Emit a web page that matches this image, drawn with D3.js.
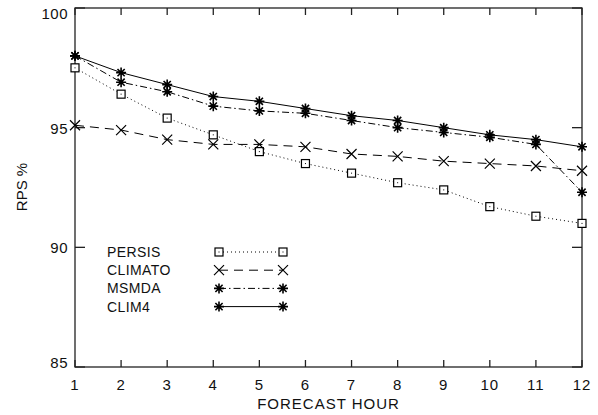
<!DOCTYPE html>
<html>
<head>
<meta charset="utf-8">
<script src="https://cdn.jsdelivr.net/npm/d3@7"></script>
<style>
  html, body { margin: 0; padding: 0; background: #fff; }
  svg { display: block; }
  text { font-family: "Liberation Sans", Arial, Helvetica, sans-serif; fill: #111; }
</style>
</head>
<body>
<svg id="chart" width="598" height="415"></svg>
<script>
// Forecast hours on the x axis
const hours = [1, 2, 3, 4, 5, 6, 7, 8, 9, 10, 11, 12];

// RPS % per forecast hour for each scheme
const persis  = [97.5, 96.4, 95.4, 94.7, 94.0, 93.5, 93.1, 92.7, 92.4, 91.7, 91.3, 91.0];
const climato = [95.1, 94.9, 94.5, 94.3, 94.3, 94.2, 93.9, 93.8, 93.6, 93.5, 93.4, 93.2];
const msmda   = [98.0, 96.9, 96.5, 95.9, 95.7, 95.6, 95.3, 95.0, 94.8, 94.6, 94.3, 92.3];
const clim4   = [98.0, 97.3, 96.8, 96.3, 96.1, 95.8, 95.5, 95.3, 95.0, 94.7, 94.5, 94.2];

const seriesNames = ["PERSIS", "CLIMATO", "MSMDA", "CLIM4"];
const yTicks = [85, 90, 95, 100];

const svg = d3.select("#chart");
const L = 75, R = 582, T = 8, B = 367;

const x = d3.scaleLinear().domain([1, 12]).range([L, R]);
const y = d3.scaleLinear().domain([85, 100]).range([B, T]);

const styles = {
  PERSIS:  { values: persis,  dash: "1,3",          marker: "square" },
  CLIMATO: { values: climato, dash: "9,6",          marker: "cross" },
  MSMDA:   { values: msmda,   dash: "7,3,1.5,3",    marker: "star" },
  CLIM4:   { values: clim4,   dash: null,           marker: "star" }
};

// Marker glyphs
function drawMarker(g, type, cx, cy) {
  const m = g.append("g").attr("transform", `translate(${cx},${cy})`)
    .attr("stroke", "#000").attr("fill", "none");
  if (type === "square") {
    m.append("rect").attr("x", -4).attr("y", -4).attr("width", 8).attr("height", 8)
      .attr("stroke-width", 1.2).attr("fill", "#fff");
    m.append("rect").attr("x", -0.5).attr("y", -0.5).attr("width", 1).attr("height", 1)
      .attr("fill", "#000").attr("stroke", "none");
  } else if (type === "cross") {
    const s = 5;
    m.append("path").attr("d", `M${-s},${-s}L${s},${s}M${-s},${s}L${s},${-s}`)
      .attr("stroke-width", 1.2);
  } else {
    const s = 5, d = 3.6;
    m.append("path")
      .attr("d", `M0,${-s}L0,${s}M${-s},0L${s},0M${-d},${-d}L${d},${d}M${-d},${d}L${d},${-d}`)
      .attr("stroke-width", 1.6);
  }
}

// Plot frame
svg.append("rect").attr("x", L).attr("y", T).attr("width", R - L).attr("height", B - T)
  .attr("fill", "none").attr("stroke", "#222").attr("stroke-width", 1.3);

// Inward ticks: x on bottom and top, y on left and right
const xtl = 7, ytl = 10;
const axes = svg.append("g").attr("stroke", "#222").attr("stroke-width", 1.3);
hours.forEach(h => {
  axes.append("line").attr("x1", x(h)).attr("x2", x(h)).attr("y1", B).attr("y2", B - xtl);
  axes.append("line").attr("x1", x(h)).attr("x2", x(h)).attr("y1", T).attr("y2", T + xtl);
});
yTicks.forEach(v => {
  axes.append("line").attr("x1", L).attr("x2", L + ytl).attr("y1", y(v)).attr("y2", y(v));
  axes.append("line").attr("x1", R).attr("x2", R - ytl).attr("y1", y(v)).attr("y2", y(v));
});

// Tick labels
svg.append("g").selectAll("text").data(hours).join("text")
  .attr("x", d => x(d)).attr("y", 390).attr("text-anchor", "middle")
  .attr("font-size", 15).attr("letter-spacing", 1).text(d => d);
svg.append("g").selectAll("text").data(yTicks).join("text")
  .attr("x", 68).attr("y", d => Math.min(Math.max(y(d) + 6, 19), 368))
  .attr("text-anchor", "end").attr("font-size", 15).attr("letter-spacing", 0.5).text(d => d);

// Axis titles
svg.append("text").attr("x", (L + R) / 2).attr("y", 409).attr("text-anchor", "middle")
  .attr("font-size", 15).attr("letter-spacing", 1).text("FORECAST HOUR");
svg.append("text").attr("transform", "translate(27,187) rotate(-90)")
  .attr("text-anchor", "middle").attr("font-size", 15).text("RPS %");

// Series lines and markers
const line = d3.line().x((d, i) => x(hours[i])).y(d => y(d));
seriesNames.forEach(name => {
  const st = styles[name];
  svg.append("path").datum(st.values).attr("d", line)
    .attr("fill", "none").attr("stroke", "#000").attr("stroke-width", 1)
    .attr("stroke-dasharray", st.dash);
  const g = svg.append("g");
  st.values.forEach((v, i) => drawMarker(g, st.marker, x(hours[i]), y(v)));
});

// Legend
const legend = svg.append("g");
seriesNames.forEach((name, i) => {
  const st = styles[name];
  const ly = 252 + i * 18.2;
  legend.append("text").attr("x", 107).attr("y", ly + 5).attr("font-size", 14)
    .attr("letter-spacing", 0.4).text(name);
  legend.append("line").attr("x1", 219).attr("x2", 283).attr("y1", ly).attr("y2", ly)
    .attr("stroke", "#000").attr("stroke-width", 1).attr("stroke-dasharray", st.dash);
  drawMarker(legend, st.marker, 219, ly);
  drawMarker(legend, st.marker, 283, ly);
});
</script>
</body>
</html>
